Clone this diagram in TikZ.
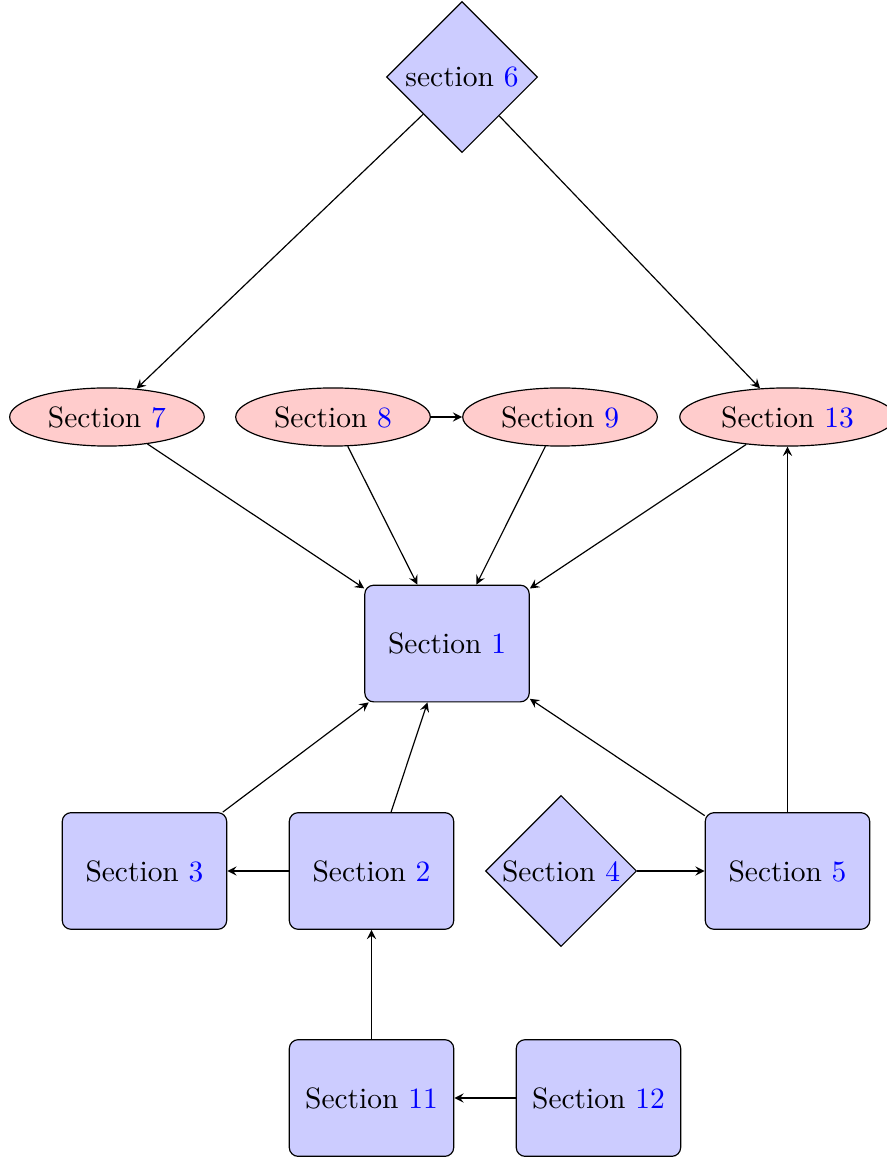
\documentclass[tikz,border=0pt]{standalone}
\usetikzlibrary{shapes.geometric}
\begin{document}
\begin{tikzpicture}
[
  box/.style = {draw, rectangle, rounded corners=3pt, fill=blue!20, minimum width=1.96cm, minimum height=1.39cm},
  rhomb/.style = {draw, diamond, fill=blue!20, inner sep=1pt, minimum size=1.8cm},
  oval/.style = {draw, ellipse, fill=red!20},
  link/.style = {-stealth},
]
\def\secno#1{\textcolor{blue}{#1}}

\useasboundingbox (0,0) rectangle (10.572,-13.802);

%top
\node[rhomb] (s6) at (5.507,-0.918) {section \secno{6}};

%ellipses
\node[oval] (s7) at (1.275,-4.970) {Section \secno{7}};
\node[oval] (s8) at (3.969,-4.970) {Section \secno{8}};
\node[oval] (s9) at (6.675,-4.970) {Section \secno{9}};
\node[oval] (s13) at (9.386,-4.970) {Section \secno{13}};

%middle
\node[box] (s1) at (5.328,-7.670) {Section \secno{1}};

%lower row
\node[box] (s3) at (1.722,-10.381) {Section \secno{3}};
\node[box] (s2) at (4.428,-10.381) {Section \secno{2}};
\node[rhomb] (s4) at (6.687,-10.381) {Section \secno{4}};
\node[box] (s5) at (9.386,-10.381) {Section \secno{5}};

%bottom
\node[box] (s11) at (4.428,-13.087) {Section \secno{11}};
\node[box] (s12) at (7.133,-13.087) {Section \secno{12}};

%arrows
\draw[link] (s6) -- (s7);
\draw[link] (s6) -- (s13);
\draw[link] (s8) -- (s9);
\draw[link] (s7) -- (s1);
\draw[link] (s8) -- (s1);
\draw[link] (s9) -- (s1);
\draw[link] (s13) -- (s1);
\draw[link] (s3) -- (s1);
\draw[link] (s2) -- (s1);
\draw[link] (s5) -- (s1);
\draw[link] (s2) -- (s3);
\draw[link] (s4) -- (s5);
\draw[link] (s5) -- (s13);
\draw[link] (s11) -- (s2);
\draw[link] (s12) -- (s11);
\end{tikzpicture}
\end{document}
